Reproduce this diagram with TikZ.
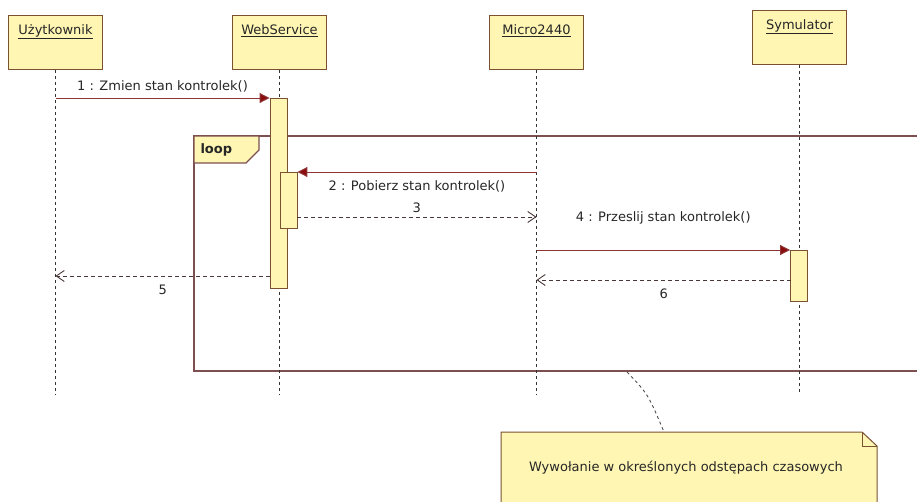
\documentclass[tikz,border=0pt]{standalone}
\usepackage{fontspec}
\setmainfont{DejaVu Sans}
\usetikzlibrary{arrows.meta,positioning}

\definecolor{umlfill}{HTML}{FFF6B4}
\definecolor{umlborder}{HTML}{7A5232}
\definecolor{callcol}{HTML}{8E3434}
\definecolor{callhead}{HTML}{8A0C0C}
\definecolor{replycol}{HTML}{4A3838}
\definecolor{framecol}{HTML}{7C5050}

\tikzset{
  txt/.style={font=\fontsize{13}{15}\selectfont, text=black!85},
  actor/.style={draw=umlborder, fill=umlfill, line width=1pt, minimum width=94pt,
                minimum height=54pt, anchor=north west, inner sep=0pt},
  actorname/.style={txt, anchor=north, yshift=-6pt},
  lifeline/.style={black!80, line width=1.1pt, dash pattern=on 3pt off 3pt},
  activation/.style={draw=umlborder, fill=umlfill, line width=0.9pt, minimum width=17pt,
                     anchor=north, inner sep=0pt},
  call/.style={callcol, line width=1pt, -{Triangle[length=10pt,width=10pt,fill=callhead]}},
  reply/.style={replycol, line width=0.9pt, dash pattern=on 4pt off 3pt,
                -{Straight Barb[length=8pt,width=11pt]}},
  msg/.style={txt},
  frame/.style={draw=framecol, line width=1.1pt},
  noteline/.style={black!70, line width=0.9pt, dash pattern=on 3pt off 3pt}
}

\begin{document}
\begin{tikzpicture}[x=1pt,y=-1pt]
  \useasboundingbox (0,0) rectangle (917,501);
  \clip (0,0) rectangle (917,501);

  % loop fragment (runs off the right side)
  \draw[frame] (194,136) rectangle (940,371);
  \draw[frame, fill=umlfill] (194,136) -- (259,136) -- (259,150) -- (246,163)
        -- (194,163) -- cycle;
  \node[txt, font=\fontsize{13}{15}\selectfont\bfseries, anchor=west] (looplbl) at (197,150) {loop};

  % participants
  \node[actor, label={[actorname]north:\underline{Użytkownik}}] (user) at (8,15) {};
  \node[actor, label={[actorname]north:\underline{WebService}}] (ws) at (232,15) {};
  \node[actor, label={[actorname]north:\underline{Micro2440}}] (micro) at (489,15) {};
  \node[actor, label={[actorname]north:\underline{Symulator}}] (sym) at (752,10) {};

  % lifelines
  \coordinate (userend) at (user.south |- 0,395);
  \coordinate (wsend) at (ws.south |- 0,395);
  \coordinate (microend) at (micro.south |- 0,395);
  \coordinate (symend) at (sym.south |- 0,392);
  \draw[lifeline] (user.south) -- (userend);
  \draw[lifeline] (ws.south) -- (wsend);
  \draw[lifeline] (micro.south) -- (microend);
  \draw[lifeline] (sym.south) -- (symend);

  % activations
  \node[activation, minimum height=190pt] (wsact) at (278.5,98) {};
  \node[activation, minimum height=56pt] (wsnest) at (288.5,172) {};
  \node[activation, minimum height=51pt] (symact) at (799,250) {};

  % messages
  \draw[call] (user.south |- wsact.north) -- (wsact.north west)
        node[msg, midway, above=2pt] {1 : Zmien stan kontrolek()};
  \draw[call] (micro.south |- wsnest.north) -- (wsnest.north east)
        node[msg, midway, below=5pt] {2 : Pobierz stan kontrolek()};

  \coordinate (r3) at (297,217);
  \draw[reply] (r3) -- (micro.south |- r3)
        node[msg, midway, above=1pt] {3};

  \draw[call] (micro.south |- symact.north) -- (symact.north west)
        node[msg, midway, above=22pt] {4 : Przeslij stan kontrolek()};

  \coordinate (r6) at (791,280);
  \draw[reply] (r6) -- (micro.south |- r6)
        node[msg, midway, below=5pt] {6};

  \coordinate (r5) at (270,276);
  \draw[reply] (r5) -- (user.south |- r5)
        node[msg, midway, below=5pt] {5};

  % note with folded corner
  \draw[umlborder, fill=umlfill, line width=1pt] (501,432) -- (862,432) -- (877,446)
        -- (877,520) -- (501,520) -- cycle;
  \draw[umlborder, line width=1pt] (862,432) -- (862,446) -- (877,446);
  \node[txt] (note) at (686,468) {Wywołanie w określonych odstępach czasowych};

  \coordinate (loopanchor) at (627,372);
  \coordinate (notetop) at (664,432);
  \draw[noteline] (loopanchor) .. controls (648,394) .. (notetop);
\end{tikzpicture}
\end{document}
